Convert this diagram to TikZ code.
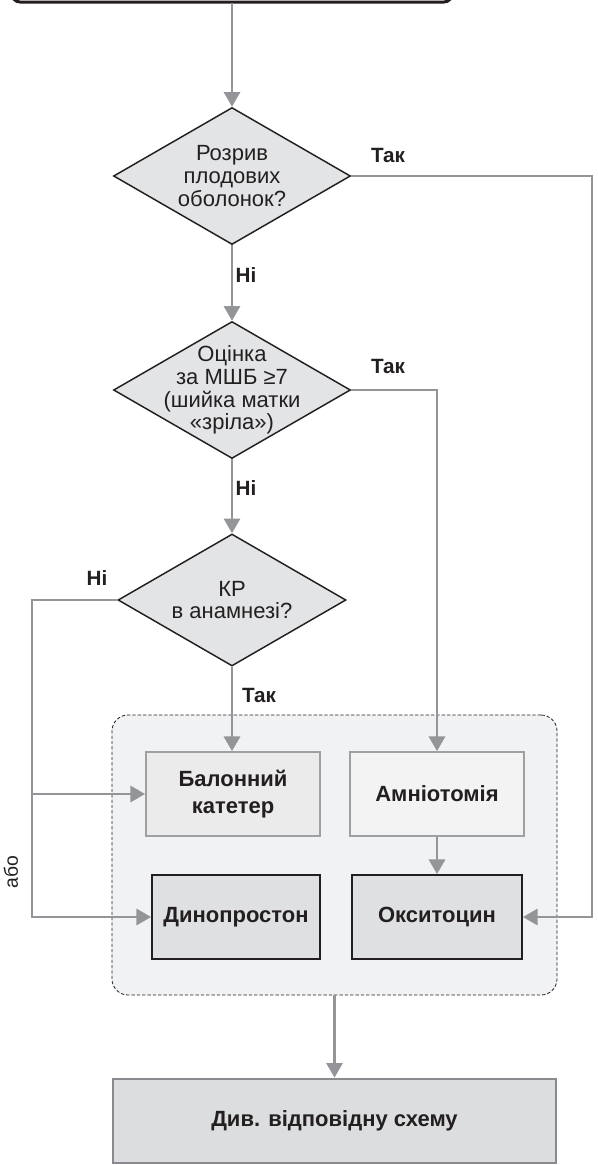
\documentclass[tikz,border=0pt]{standalone}
\usepackage{fontspec}
\setmainfont{Liberation Sans}
\usetikzlibrary{shapes.geometric,arrows.meta,fit}
\definecolor{arrgray}{HTML}{939598}
\definecolor{diafill}{HTML}{E3E4E6}
\definecolor{grpfill}{HTML}{F1F2F4}
\definecolor{balfill}{HTML}{EBEBEC}
\definecolor{amnfill}{HTML}{F3F3F4}
\definecolor{drugfill}{HTML}{DFE0E2}
\definecolor{finfill}{HTML}{DCDDDF}
\definecolor{ink}{HTML}{231F20}
\tikzset{
  arr/.style={draw=arrgray, line width=2.2pt, -{Triangle[length=11pt,width=12pt]}},
  dia/.style={diamond, draw=ink, fill=diafill, line width=1.1pt, inner sep=0pt,
     minimum width=177.75pt, minimum height=102.75pt},
  dtext/.style={align=center, font=\fontsize{16.5}{17}\selectfont, text=ink},
  lbl/.style={font=\bfseries\fontsize{15.5}{17}\selectfont, text=ink},
  boxtxt/.style={align=center, font=\bfseries\fontsize{16.5}{20}\selectfont, text=ink, inner sep=0pt},
}
\begin{document}
\begin{tikzpicture}[x=0.75pt,y=-0.75pt]
\useasboundingbox (0,0) rectangle (598,1165);
\begin{scope}
\clip (0,0) rectangle (598,1165);
\draw[ink, line width=2.25pt, rounded corners=6pt, fill=white] (12,-40) rectangle (452,2);
\end{scope}
\coordinate (top) at (232,3);
% group box
\node[draw=ink, dashed, dash pattern=on 2.5pt off 1.5pt, line width=0.6pt, fill=grpfill, rounded corners=12pt, inner sep=0pt, fit={(112,715)(557,995)}] (grp) {};
% diamonds
\node[dia] (d1) at (232,176) {};
\node[dtext] at (d1) {Розрив\\плодових\\оболонок?};
\node[dia] (d2) at (232,390) {};
\node[dtext] at (d2) {Оцінка\\за МШБ ≥7\\(шийка матки\\«зріла»)};
\node[dia, minimum width=171pt, minimum height=99pt] (d3) at (232,600) {};
\node[dtext] at (d3) {КР\\в анамнезі?};
% boxes
\node[draw=arrgray!90, line width=1.3pt, fill=balfill, inner sep=0pt, fit={(146,752)(320,836)}] (bal) {};
\node[boxtxt] at (bal) {Балонний\\катетер};
\node[draw=arrgray!90, line width=1.3pt, fill=amnfill, inner sep=0pt, fit={(350,752)(524,836)}] (amn) {};
\node[boxtxt] at (amn) {Амніотомія};
\node[draw=ink, line width=1.3pt, fill=drugfill, inner sep=0pt, fit={(152,875)(320,959)}] (din) {};
\node[boxtxt] at (din) {Динопростон};
\node[draw=ink, line width=1.3pt, fill=drugfill, inner sep=0pt, fit={(352,875)(522,959)}] (oks) {};
\node[boxtxt] at (oks) {Окситоцин};
\node[draw=arrgray!110, line width=2pt, fill=finfill, inner sep=0pt, fit={(113,1079)(556,1163)}] (fin) {};
\node[boxtxt] at (fin) {Див. відповідну схему};
% coordinates for routing
\coordinate (rx) at (592,0);
\coordinate (lx) at (32,0);
% connectors
\draw[arr] (top) -- (d1.north);
\draw[arr] (d1.east) -| (rx |- oks.east) -- (oks.east);
\draw[arr] (d1.south) -- (d2.north);
\draw[arr] (d2.east) -| (amn.north);
\draw[arr] (d2.south) -- (d3.north);
\draw[arr] (d3.south) -- (d3.south |- bal.north);
\draw[arr] (d3.west) -| (lx |- din.west) -- (din.west);
\draw[arr] (lx |- bal.west) -- (bal.west);
\draw[arr] (amn.south) -- (oks.north);
\draw[arr] (grp.south) -- (fin.north);
% labels
\node[lbl] (t1) at (388,155) {Так};
\node[lbl] (n1) at (246,275) {Ні};
\node[lbl] (t2) at (388,366) {Так};
\node[lbl] (n2) at (246,488) {Ні};
\node[lbl] (n3) at (97,578) {Ні};
\node[lbl] (t3) at (259,695) {Так};
\node[font=\fontsize{14.5}{16}\selectfont, text=ink, rotate=90] (abo) at (11,872) {або};
\end{tikzpicture}
\end{document}
